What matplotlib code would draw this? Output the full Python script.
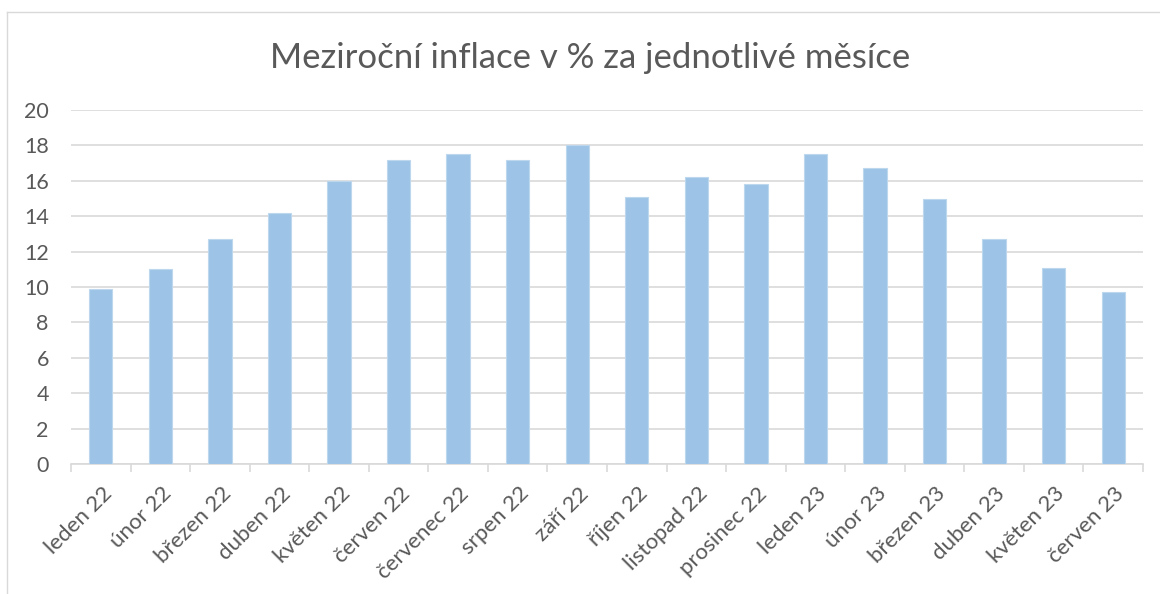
import matplotlib
matplotlib.use('Agg')
import matplotlib.pyplot as plt
import matplotlib.transforms as mtransforms
from matplotlib.lines import Line2D
import numpy as np

plt.rcParams['font.family'] = ['Lato', 'DejaVu Sans']

months = ['leden 22', 'únor 22', 'březen 22', 'duben 22', 'květen 22', 'červen 22',
          'červenec 22', 'srpen 22', 'září 22', 'říjen 22', 'listopad 22', 'prosinec 22',
          'leden 23', 'únor 23', 'březen 23', 'duben 23', 'květen 23', 'červen 23']
inflace = [9.9, 11.0, 12.7, 14.2, 16.0, 17.2,
           17.5, 17.2, 18.0, 15.1, 16.2, 15.8,
           17.5, 16.7, 15.0, 12.7, 11.1, 9.7]
y_ticks = [0, 2, 4, 6, 8, 10, 12, 14, 16, 18, 20]

title = 'Meziroční inflace v % za jednotlivé měsíce'

text_col = '#595959'
grid_col = '#D9D9D9'
bar_col = '#9DC3E6'

fig = plt.figure(figsize=(11.6, 5.94), dpi=100)
ax = fig.add_axes([71 / 1160, 1 - 464 / 594, (1143 - 71) / 1160, (464 - 110) / 594])

x = np.arange(len(months))
ax.bar(x, inflace, width=0.39, color=bar_col, edgecolor='#BDD7EE', linewidth=0.8, zorder=3)

ax.set_xlim(-0.5, len(months) - 0.5)
ax.set_ylim(0, 20)
ax.set_yticks(y_ticks)
ax.tick_params(axis='y', length=0, pad=16, labelsize=15.5, labelcolor=text_col)
ax.grid(axis='y', color=grid_col, linewidth=1.2, zorder=0)

ax.set_xticks(x)
ax.set_xticklabels(months, rotation=45, ha='right', va='top', rotation_mode='anchor')
ax.tick_params(axis='x', which='major', length=0, pad=14, labelsize=16, labelcolor=text_col)
ax.set_xticks(np.arange(len(months) + 1) - 0.5, minor=True)
ax.tick_params(axis='x', which='minor', length=6, width=1.2, color=grid_col)
offset = mtransforms.ScaledTranslation(1 / 100, 0, fig.dpi_scale_trans)
for lab in ax.get_xticklabels():
    lab.set_transform(lab.get_transform() + offset)

for side in ['top', 'right', 'left']:
    ax.spines[side].set_visible(False)
ax.spines['bottom'].set_color(grid_col)
ax.spines['bottom'].set_linewidth(1.2)

fig.text(590 / 1160, 1 - 58 / 594, title, ha='center', va='center',
         fontsize=25, color=text_col)

# chart frame
fig.add_artist(Line2D([7 / 1160, 1], [1 - 12 / 594, 1 - 12 / 594],
                      transform=fig.transFigure, color=grid_col, linewidth=1))
fig.add_artist(Line2D([7 / 1160, 7 / 1160], [0, 1 - 12 / 594],
                      transform=fig.transFigure, color=grid_col, linewidth=1))

fig.savefig('out.png', dpi=100)
